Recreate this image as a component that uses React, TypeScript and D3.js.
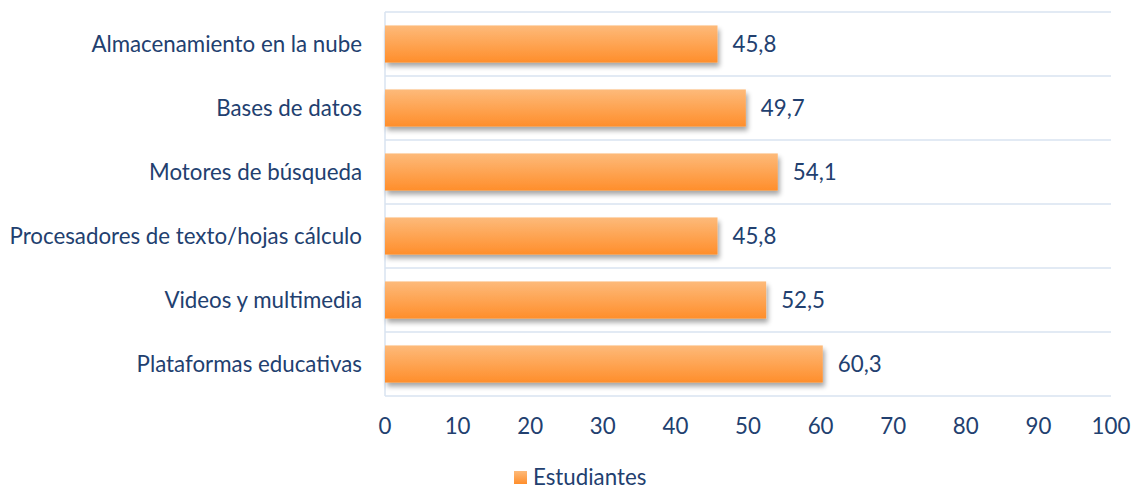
import React from "react";
import * as d3 from "d3";

const categories = [
  "Almacenamiento en la nube",
  "Bases de datos",
  "Motores de búsqueda",
  "Procesadores de texto/hojas cálculo",
  "Videos y multimedia",
  "Plataformas educativas",
];
const values = [45.8, 49.7, 54.1, 45.8, 52.5, 60.3];
const ticks = [0, 10, 20, 30, 40, 50, 60, 70, 80, 90, 100];
const seriesName = "Estudiantes";

const W = 1132;
const H = 490;
const left = 385;
const right = 1111;
const top = 12;
const bottom = 396;
const textColor = "#22406F";
const gridColor = "#D9E3F1";
const font = "Lato, 'Open Sans', sans-serif";
const fs = 22.3;

export default function App() {
  const x = d3.scaleLinear().domain([0, 100]).range([left, right]);
  const y = d3
    .scaleBand<string>()
    .domain(categories)
    .range([top, bottom])
    .paddingInner(0.42)
    .paddingOuter(0.21);
  const fmt = (v: number) => v.toFixed(1).replace(".", ",");
  const band = (bottom - top) / categories.length;

  return (
    <svg width={W} height={H} style={{ position: "absolute", left: 0, top: 0 }}>
      <defs>
        <linearGradient id="barGrad" x1="0" y1="0" x2="0" y2="1">
          <stop offset="0%" stopColor="#FDBA7A" />
          <stop offset="100%" stopColor="#FF8E2B" />
        </linearGradient>
        <filter id="shadow" x="-5%" y="-20%" width="110%" height="160%">
          <feGaussianBlur in="SourceAlpha" stdDeviation="2.5" />
          <feOffset dx="2" dy="4" result="ob" />
          <feComponentTransfer>
            <feFuncA type="linear" slope="0.35" />
          </feComponentTransfer>
          <feMerge>
            <feMergeNode />
            <feMergeNode in="SourceGraphic" />
          </feMerge>
        </filter>
      </defs>
      <rect width={W} height={H} fill="#fff" />
      {d3.range(categories.length + 1).map((i) => (
        <line
          key={i}
          x1={left}
          x2={right}
          y1={top + i * band}
          y2={top + i * band}
          stroke={gridColor}
          strokeWidth={1.5}
        />
      ))}
      <line x1={left} x2={left} y1={top} y2={bottom} stroke={gridColor} strokeWidth={1.5} />
      {categories.map((c, i) => (
        <g key={c}>
          <rect
            x={x(0)}
            y={y(c)!}
            width={x(values[i]) - x(0)}
            height={y.bandwidth()}
            fill="url(#barGrad)"
            filter="url(#shadow)"
          />
          <text
            x={x(values[i]) + 15}
            y={y(c)! + y.bandwidth() / 2}
            dy="0.35em"
            fontFamily={font}
            fontSize={fs}
            fill={textColor}
          >
            {fmt(values[i])}
          </text>
          <text
            x={362}
            y={y(c)! + y.bandwidth() / 2}
            dy="0.35em"
            textAnchor="end"
            fontFamily={font}
            fontSize={fs}
            fill={textColor}
          >
            {c}
          </text>
        </g>
      ))}
      {ticks.map((t) => (
        <text
          key={t}
          x={x(t)}
          y={426}
          dy="0.35em"
          textAnchor="middle"
          fontFamily={font}
          fontSize={fs}
          fill={textColor}
        >
          {t}
        </text>
      ))}
      <rect x={514} y={471} width={13} height={13} fill="url(#barGrad)" />
      <text x={533} y={477} dy="0.35em" fontFamily={font} fontSize={fs} fill={textColor}>
        {seriesName}
      </text>
    </svg>
  );
}
